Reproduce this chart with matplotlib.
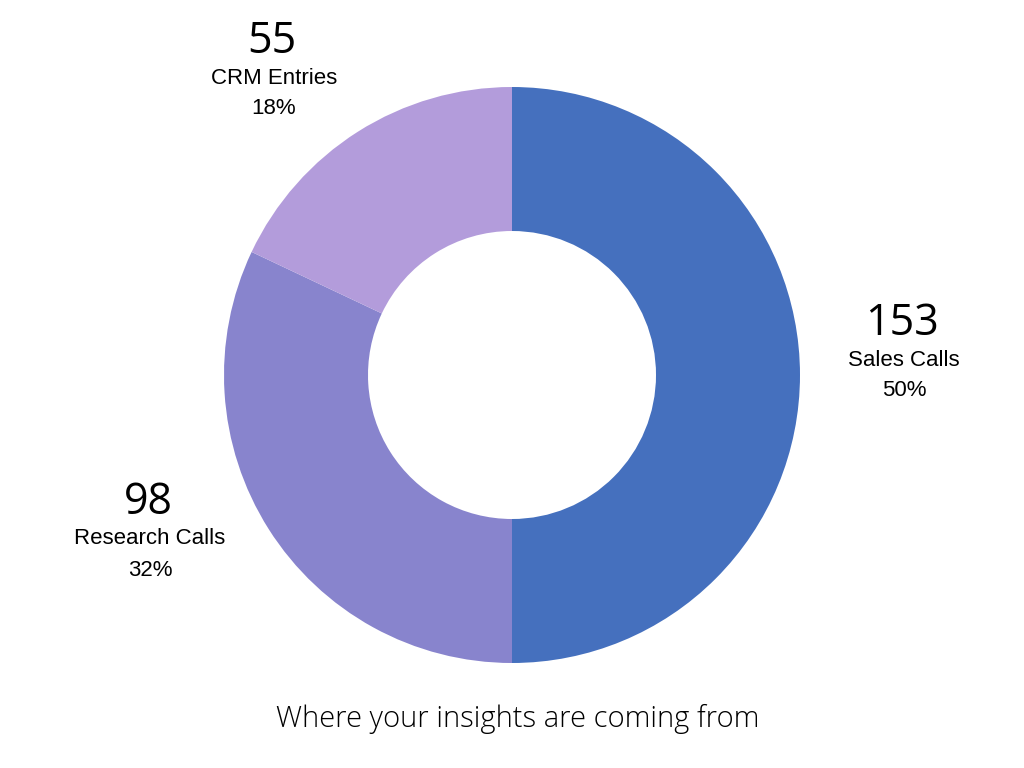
import matplotlib.pyplot as plt

# data
labels = ["Sales Calls", "Research Calls", "CRM Entries"]
values = [153, 98, 55]
percents = ["50%", "32%", "18%"]
colors = ["#4570BE", "#8884CD", "#B39CDB"]

# label positions (pixels, from top-left)
label_pos = [(902, 324), (148, 503), (272, 42)]

fig = plt.figure(figsize=(10.24, 7.68), dpi=100)
ax = fig.add_axes([0, 0, 1, 1])

ax.pie(values, colors=colors, startangle=90, counterclock=False,
       center=(512, 768 - 375), radius=288,
       wedgeprops=dict(width=144, linewidth=0))
ax.set_xlim(0, 1024)
ax.set_ylim(0, 768)
ax.set_aspect("equal")
ax.axis("off")

for lab, v, p, (x, y) in zip(labels, values, percents, label_pos):
    ax.text(x, 768 - y, str(v), ha="center", va="center",
            fontsize=31, family="Open Sans", color="black")
    ax.text(x + 2, 768 - y - 36, lab, ha="center", va="center",
            fontsize=16, family="Liberation Sans", color="black")
    ax.text(x + 2, 768 - y - 67, p, ha="center", va="center",
            fontsize=16, family="Liberation Sans", color="black")

ax.text(518, 768 - 719, "Where your insights are coming from", ha="center",
        va="center", fontsize=21, family="Open Sans", weight="light",
        color="black")

plt.savefig("out.png", dpi=100)
